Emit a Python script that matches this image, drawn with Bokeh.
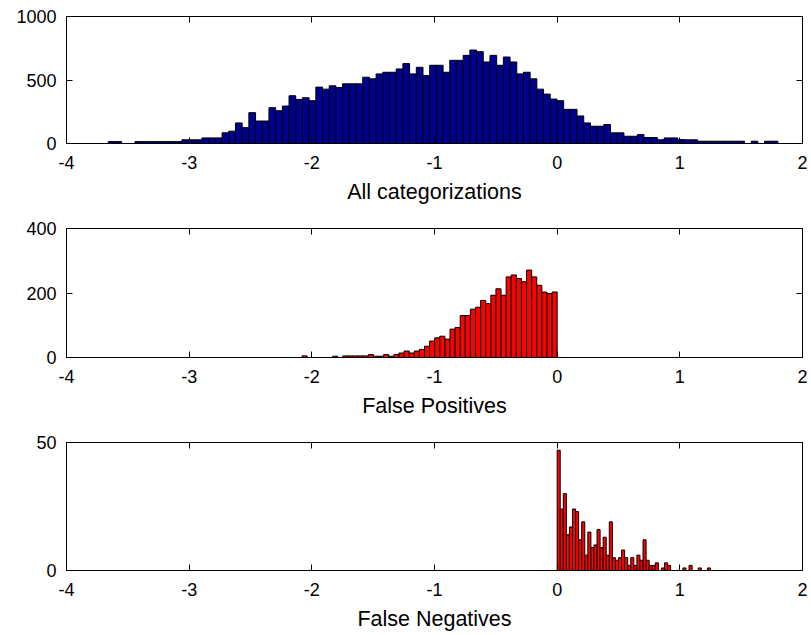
import numpy as np
from bokeh.plotting import figure
from bokeh.models import Range1d, LinearAxis, FixedTicker, ColumnDataSource
from bokeh.layouts import column
from bokeh.embed import file_html
from bokeh.resources import INLINE

# ---------------- data ----------------
x_ticks = [-4, -3, -2, -1, 0, 1, 2]
x_tick_labels = ["-4", "-3", "-2", "-1", "0", "1", "2"]

# All categorizations: 100 bins from -3.66, width 0.0546
all_start = -3.66
all_width = 0.0546
all_counts = [15, 15, 0, 0, 15, 15, 15, 15, 15, 15,
              15, 29, 29, 29, 44, 44, 44, 84, 97, 162,
              125, 243, 177, 177, 282, 258, 295, 376, 347, 360,
              337, 444, 428, 454, 441, 470, 470, 470, 522, 509,
              548, 561, 561, 587, 629, 548, 600, 535, 616, 616,
              561, 655, 655, 694, 736, 723, 642, 694, 616, 681,
              642, 548, 561, 509, 428, 389, 350, 337, 269, 269,
              217, 162, 136, 136, 149, 84, 84, 57, 57, 70,
              47, 47, 29, 44, 44, 31, 29, 29, 18, 18,
              18, 18, 18, 18, 18, 0, 18, 0, 18, 18]
all_yticks = [0, 500, 1000]

# False Positives: 50 bins from -2.08 to 0
fp_start = -2.08
fp_width = 0.0416
fp_counts = [5, 0, 0, 0, 0, 0, 4, 0, 5, 5,
             5, 5, 5, 9, 4, 4, 9, 4, 9, 14,
             20, 14, 20, 25, 35, 51, 61, 66, 57, 88,
             93, 130, 130, 150, 156, 177, 167, 193, 213, 193,
             250, 256, 245, 235, 271, 250, 224, 203, 198, 203]
fp_yticks = [0, 200, 400]

# False Negatives: 50 bins from 0, width 0.025
fn_start = 0.0
fn_width = 0.025
fn_counts = [47, 24, 30, 14, 17, 24, 23, 12, 19, 6,
             15, 9, 10, 16, 9, 13, 6, 19, 5, 4,
             5, 8, 5, 2, 5, 2, 6, 4, 12, 4,
             2, 2, 3, 0, 1, 3, 2, 0, 0, 0,
             0, 1, 0, 2, 0, 0, 1, 0, 0, 1]
fn_yticks = [0, 50]

FONT = "Liberation Sans"


def style_axis(ax, show_labels):
    ax.axis_line_color = "black"
    ax.axis_line_width = 1
    ax.major_tick_in = 6
    ax.major_tick_out = 0
    ax.major_tick_line_color = "black"
    ax.minor_tick_line_color = None
    if show_labels:
        ax.major_label_text_font = FONT
        ax.major_label_text_font_size = "18px"
        ax.major_label_text_color = "black"
        ax.major_label_standoff = 12
    else:
        ax.major_label_text_font_size = "0px"
        ax.major_label_text_color = None
        ax.major_label_standoff = 0


def make_panel(counts, start, width, color, yticks, ymax, label, height, top, bottom):
    n = len(counts)
    left = start + width * np.arange(n)
    src = ColumnDataSource(dict(left=left, right=left + width,
                                top=np.array(counts, dtype=float), bottom=np.zeros(n)))
    p = figure(width=811, height=height, x_range=Range1d(-4, 2), y_range=Range1d(0, ymax),
               output_backend="svg", toolbar_location=None,
               x_axis_type=None, y_axis_type=None,
               min_border_left=66, min_border_right=9,
               min_border_top=top, min_border_bottom=bottom)
    p.quad(left="left", right="right", top="top", bottom="bottom", source=src,
           fill_color=color, line_color="black", line_width=1)

    xlab = {t: s for t, s in zip(x_ticks, x_tick_labels)}
    xb = LinearAxis(ticker=FixedTicker(ticks=x_ticks), major_label_overrides=xlab)
    style_axis(xb, True)
    xb.axis_label = label
    xb.axis_label_text_font = FONT
    xb.axis_label_text_font_size = "21.5px"
    xb.axis_label_text_font_style = "normal"
    xb.axis_label_text_color = "black"
    xb.axis_label_standoff = 8
    p.add_layout(xb, "below")

    yl = LinearAxis(ticker=FixedTicker(ticks=yticks))
    style_axis(yl, True)
    yl.major_label_standoff = 10
    p.add_layout(yl, "left")

    xt = LinearAxis(ticker=FixedTicker(ticks=x_ticks))
    style_axis(xt, False)
    p.add_layout(xt, "above")

    yr = LinearAxis(ticker=FixedTicker(ticks=yticks))
    style_axis(yr, False)
    p.add_layout(yr, "right")

    p.outline_line_color = "black"
    p.background_fill_color = "white"
    p.border_fill_color = "white"
    return p


p1 = make_panel(all_counts, all_start, all_width, "#00008F", all_yticks, 1000,
                "All categorizations", 213, 16, 70)
p2 = make_panel(fp_counts, fp_start, fp_width, "#FF0000", fp_yticks, 400,
                "False Positives", 214, 15, 70)
p3 = make_panel(fn_counts, fn_start, fn_width, "#FF0000", fn_yticks, 50,
                "False Negatives", 208, 15, 65)

layout = column(p1, p2, p3, spacing=0)
open("out.html", "w").write(file_html(layout, INLINE))
